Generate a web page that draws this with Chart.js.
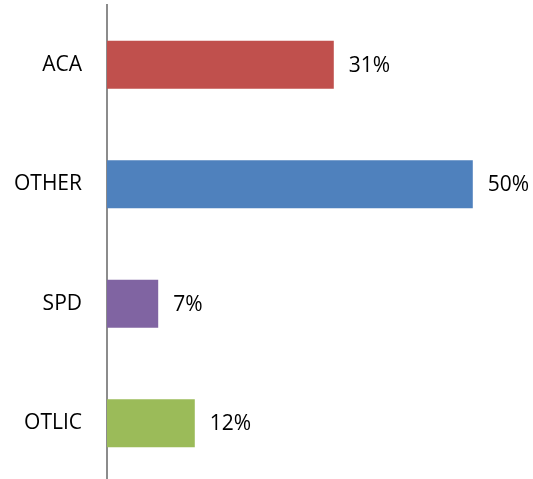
<!DOCTYPE html>
<html>
<head>
<meta charset="utf-8">
<script src="https://cdn.jsdelivr.net/npm/chart.js@4/dist/chart.umd.min.js"></script>
<style>
html,body{margin:0;padding:0;background:#fff;overflow:hidden;}
canvas{display:block;}
</style>
</head>
<body>
<canvas id="c" width="533" height="483" style="width:533px;height:483px;"></canvas>
<script>
const categories = ["ACA", "OTHER", "SPD", "OTLIC"];
const values = [31, 50, 7, 12];
const barColors = ["#C0504D", "#4F81BD", "#8064A2", "#9BBB59"];

const FONT = "'Open Sans', sans-serif";

const valueLabels = {
  id: 'valueLabels',
  afterDatasetsDraw(chart) {
    const ctx = chart.ctx;
    const meta = chart.getDatasetMeta(0);
    ctx.save();
    ctx.font = "21px " + FONT;
    ctx.fillStyle = "#000";
    ctx.textAlign = "left";
    ctx.textBaseline = "middle";
    meta.data.forEach((bar, i) => {
      ctx.fillText(values[i] + "%", bar.x + 15, bar.y + 1);
    });
    ctx.restore();
  }
};

new Chart(document.getElementById('c'), {
  type: 'bar',
  data: {
    labels: categories,
    datasets: [{
      data: values,
      backgroundColor: barColors,
      borderWidth: 0,
      categoryPercentage: 1,
      barPercentage: 0.40
    }]
  },
  options: {
    indexAxis: 'y',
    responsive: false,
    maintainAspectRatio: false,
    devicePixelRatio: 1,
    animation: false,
    layout: { padding: { top: 5, right: 9, bottom: 0, left: 0 } },
    plugins: { legend: { display: false }, tooltip: { enabled: false } },
    scales: {
      x: {
        display: false,
        min: 0,
        max: 57
      },
      y: {
        grid: { display: false, drawTicks: false },
        border: { display: true, color: '#8c8c8c', width: 2 },
        ticks: {
          color: '#000',
          font: { family: FONT, size: 21 },
          padding: 25
        },
        afterFit(scale) {
          scale.width = 107;
          scale.paddingTop = 0;
          scale.paddingBottom = 0;
        }
      }
    }
  },
  plugins: [valueLabels]
});
</script>
</body>
</html>
